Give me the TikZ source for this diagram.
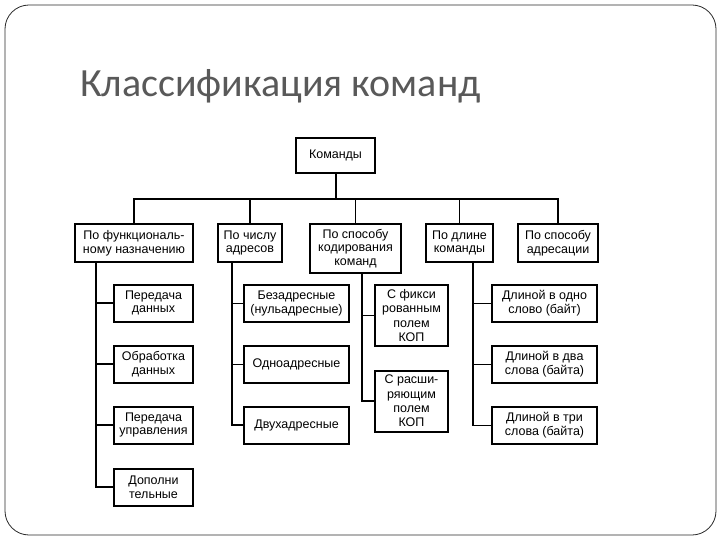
\documentclass[tikz,border=0pt]{standalone}
\usepackage{fontspec}
\setmainfont{Liberation Sans}
\newfontfamily\titlefont{Carlito}
\definecolor{titlegray}{RGB}{89,89,89}
\definecolor{framegray}{RGB}{40,40,40}
\begin{document}
\begin{tikzpicture}[x=1pt,y=-1pt,
  box/.style={draw,line width=2pt,align=center,inner sep=0pt,
    font=\fontsize{12.5}{13.8}\selectfont},
  conn/.style={line width=1.4pt}]
\useasboundingbox (0,0) rectangle (720,540);
\draw[framegray,line width=0.8pt,rounded corners=24pt] (5,5) rectangle (716,535);
\node[anchor=base west,text=titlegray,font=\titlefont\fontsize{40}{44}\selectfont,inner sep=0pt] (title) at (80,97) {Классификация команд};
% root and first level
\node[box,minimum width=79pt,minimum height=35pt] (root) at (335.5,155.5) {Команды};
\node[box,minimum width=118pt,minimum height=38pt] (f1) at (134,243) {По функциональ-\\ному назначению};
\node[box,minimum width=64pt,minimum height=38pt] (f2) at (250,243) {По числу\\адресов};
\node[box,minimum width=91pt,minimum height=49pt] (f3) at (355.5,248.5) {По способу\\кодирования\\команд};
\node[box,minimum width=67pt,minimum height=38pt] (f4) at (459.5,243) {По длине\\команды};
\node[box,minimum width=80pt,minimum height=38pt] (f5) at (558,243) {По способу\\адресации};
% leaves column 1
\node[box,minimum width=79pt,minimum height=37pt] (a1) at (153.5,303) {Передача\\данных};
\node[box,minimum width=79pt,minimum height=37pt] (a2) at (153.5,364) {Обработка\\данных};
\node[box,minimum width=79pt,minimum height=37pt] (a3) at (153.5,425) {Передача\\управления};
\node[box,minimum width=79pt,minimum height=37pt] (a4) at (153.5,487) {Дополни\\тельные};
% leaves column 2
\node[box,minimum width=105pt,minimum height=37pt] (b1) at (296.5,303.5) {Безадресные\\(нульадресные)};
\node[box,minimum width=105pt,minimum height=37pt] (b2) at (296.5,364.5) {Одноадресные};
\node[box,minimum width=105pt,minimum height=37pt] (b3) at (296.5,425) {Двухадресные};
% leaves column 3
\node[box,minimum width=73pt,minimum height=61pt,font=\fontsize{12.5}{14.3}\selectfont] (c1) at (411.5,315.5) {С фикси\\рованным\\полем\\КОП};
\node[box,minimum width=73pt,minimum height=61pt,font=\fontsize{12.5}{14.3}\selectfont] (c2) at (411.5,401) {С расши-\\ряющим\\полем\\КОП};
% leaves column 4
\node[box,minimum width=105pt,minimum height=37pt] (d1) at (544.5,303.5) {Длиной в одно\\слово (байт)};
\node[box,minimum width=105pt,minimum height=37pt] (d2) at (544.5,364.5) {Длиной в два\\слова (байта)};
\node[box,minimum width=105pt,minimum height=37pt] (d3) at (544.5,425.5) {Длиной в три\\слова (байта)};
% bus
\coordinate (busR) at (335.5,199);
\coordinate (bus1) at (134,199);
\coordinate (bus2) at (250,199);
\coordinate (bus3) at (355.5,199);
\coordinate (bus4) at (459.5,199);
\coordinate (bus5) at (558,199);
\draw[conn,line width=2pt] (root.south) -- (busR);
\draw[conn] (f1.north) -- (bus1) -- (bus5) -- (f5.north);
\draw[conn] (bus2) -- (f2.north);
\draw[conn] (bus3) -- (f3.north);
\draw[conn] (bus4) -- (f4.north);
% trunks
\coordinate (t1) at (96,262);
\coordinate (t2) at (232,262);
\coordinate (t3) at (362,273);
\coordinate (t4) at (473,262);
\draw[conn] (t1) |- (a4.west);
\draw[conn] (t1 |- a1.west) -- (a1.west);
\draw[conn] (t1 |- a2.west) -- (a2.west);
\draw[conn] (t1 |- a3.west) -- (a3.west);
\draw[conn,line width=2pt] (t2) |- (b3.west);
\draw[conn] (t2 |- b1.west) -- (b1.west);
\draw[conn] (t2 |- b2.west) -- (b2.west);
\draw[conn] (t3) |- (c2.west);
\draw[conn] (t3 |- c1.west) -- (c1.west);
\draw[conn] (t4) |- (d3.west);
\draw[conn] (t4 |- d1.west) -- (d1.west);
\draw[conn] (t4 |- d2.west) -- (d2.west);
\end{tikzpicture}
\end{document}
